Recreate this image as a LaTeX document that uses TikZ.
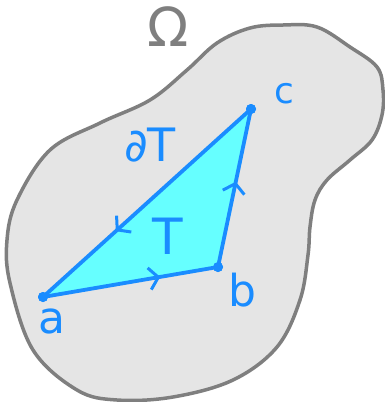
\documentclass[tikz,border=0pt]{standalone}
\usepackage{fontspec}
\setmainfont{DejaVu Sans}
\usetikzlibrary{decorations.markings,arrows.meta}
\definecolor{penblue}{HTML}{1A8CFF}
\definecolor{tricyan}{HTML}{66FFFF}
\definecolor{blobgray}{HTML}{E5E5E5}
\definecolor{linegray}{HTML}{7F7F7F}
\tikzset{
  pen/.style={draw=penblue, line width=3.8pt, line cap=round, line join=round},
  vdot/.style={circle, fill=penblue, inner sep=0pt, minimum size=10pt},
  lbl/.style={text=penblue, font=\fontsize{44}{44}\selectfont, inner sep=0pt},
  midarrow/.style={postaction={decorate, decoration={markings,
      mark=at position #1 with {\arrow[penblue, line width=3pt]{Straight Barb[length=9pt, width=22pt]}}}}}
}
\begin{document}
\begin{tikzpicture}[x=1pt, y=-1pt]
\useasboundingbox (0,0) rectangle (385,402);
% domain Omega
\draw[fill=blobgray, draw=linegray, line width=3.5pt]
  plot[smooth cycle, tension=0.6] coordinates {
  (17,200) (50,150) (100,123) (150,100) (187,70) (217,43) (250,28) (283,25)
  (317,27) (350,47) (377,67) (383,90) (382,115) (372,140) (350,160) (327,180)
  (315,200) (310,227) (308,255) (300,300) (277,347) (233,380) (173,397)
  (117,400) (77,390) (33,350) (10,283) (7,240)};
% vertices
\node[vdot] (a) at (43,297) {};
\node[vdot] (b) at (218,267) {};
\node[vdot] (c) at (251,109) {};
% triangle
\fill[tricyan] (a.center) -- (b.center) -- (c.center) -- cycle;
\draw[pen, midarrow=0.67] (a.center) -- (b.center);
\draw[pen, midarrow=0.54] (b.center) -- (c.center);
\draw[pen, midarrow=0.65] (c.center) -- (a.center);
\node[vdot] at (a) {};
\node[vdot] at (b) {};
\node[vdot] at (c) {};
% labels
\node[text=linegray, font=\fontsize{54}{54}\selectfont, inner sep=0pt] (omega) at (168,27) {Ω};
\node[lbl, font=\fontsize{36}{36}\selectfont] (lc) at (284,94) {c};
\node[lbl, font=\fontsize{46}{46}\selectfont] (ldT) at (150,145) {∂T};
\node[lbl, font=\fontsize{50}{50}\selectfont] (lT) at (168,236) {T};
\node[lbl] (lb) at (242,290) {b};
\node[lbl] (la) at (52,321) {a};
\end{tikzpicture}
\end{document}
